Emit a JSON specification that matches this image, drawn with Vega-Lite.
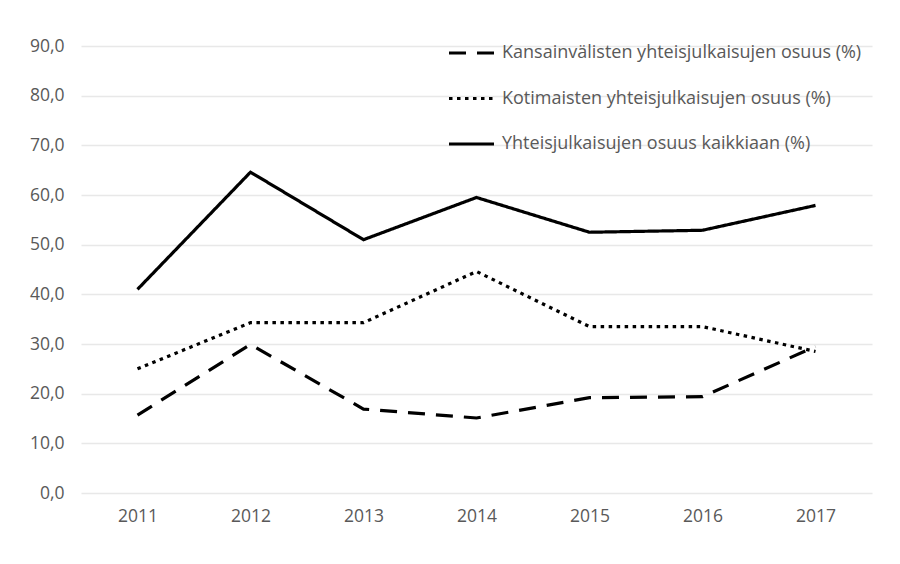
{
  "$schema": "https://vega.github.io/schema/vega-lite/v6.json",
  "width": 791,
  "height": 447,
  "autosize": "none",
  "padding": {"left": 81, "top": 46, "right": 28, "bottom": 71},
  "background": "white",
  "data": {
    "values": [
      {"year": "2011", "series": "Kansainvälisten yhteisjulkaisujen osuus (%)", "value": 15.7},
      {"year": "2012", "series": "Kansainvälisten yhteisjulkaisujen osuus (%)", "value": 29.9},
      {"year": "2013", "series": "Kansainvälisten yhteisjulkaisujen osuus (%)", "value": 16.9},
      {"year": "2014", "series": "Kansainvälisten yhteisjulkaisujen osuus (%)", "value": 15.1},
      {"year": "2015", "series": "Kansainvälisten yhteisjulkaisujen osuus (%)", "value": 19.2},
      {"year": "2016", "series": "Kansainvälisten yhteisjulkaisujen osuus (%)", "value": 19.4},
      {"year": "2017", "series": "Kansainvälisten yhteisjulkaisujen osuus (%)", "value": 29.5},
      {"year": "2011", "series": "Kotimaisten yhteisjulkaisujen osuus (%)", "value": 25.0},
      {"year": "2012", "series": "Kotimaisten yhteisjulkaisujen osuus (%)", "value": 34.3},
      {"year": "2013", "series": "Kotimaisten yhteisjulkaisujen osuus (%)", "value": 34.3},
      {"year": "2014", "series": "Kotimaisten yhteisjulkaisujen osuus (%)", "value": 44.6},
      {"year": "2015", "series": "Kotimaisten yhteisjulkaisujen osuus (%)", "value": 33.5},
      {"year": "2016", "series": "Kotimaisten yhteisjulkaisujen osuus (%)", "value": 33.5},
      {"year": "2017", "series": "Kotimaisten yhteisjulkaisujen osuus (%)", "value": 28.5},
      {"year": "2011", "series": "Yhteisjulkaisujen osuus kaikkiaan (%)", "value": 41.0},
      {"year": "2012", "series": "Yhteisjulkaisujen osuus kaikkiaan (%)", "value": 64.6},
      {"year": "2013", "series": "Yhteisjulkaisujen osuus kaikkiaan (%)", "value": 51.0},
      {"year": "2014", "series": "Yhteisjulkaisujen osuus kaikkiaan (%)", "value": 59.5},
      {"year": "2015", "series": "Yhteisjulkaisujen osuus kaikkiaan (%)", "value": 52.5},
      {"year": "2016", "series": "Yhteisjulkaisujen osuus kaikkiaan (%)", "value": 52.9},
      {"year": "2017", "series": "Yhteisjulkaisujen osuus kaikkiaan (%)", "value": 57.9}
    ]
  },
  "mark": {"type": "line", "color": "black", "strokeWidth": 3.2, "strokeCap": "butt", "strokeJoin": "miter"},
  "encoding": {
    "x": {
      "field": "year", "type": "ordinal",
      "scale": {"paddingInner": 1, "paddingOuter": 0.5},
      "axis": {"title": null, "labelAngle": 0, "ticks": false, "domain": false, "grid": false,
               "labelFont": "Open Sans", "labelFontSize": 17.5, "labelColor": "#595959", "labelPadding": 14}
    },
    "y": {
      "field": "value", "type": "quantitative",
      "scale": {"domain": [0, 90], "nice": false},
      "axis": {"title": null, "values": [0,10,20,30,40,50,60,70,80,90], "labelOverlap": false,
               "labelExpr": "replace(format(datum.value, '.1f'), '.', ',')",
               "ticks": false, "domain": false, "grid": true, "gridColor": "#e8e8e8", "gridWidth": 1.5,
               "labelFont": "Open Sans", "labelFontSize": 17.5, "labelColor": "#595959", "labelPadding": 17}
    },
    "strokeDash": {
      "field": "series", "type": "nominal",
      "scale": {"range": [[17, 11], [3.5, 4.5], [1, 0]]},
      "legend": {
        "title": null, "orient": "none", "legendX": 366, "legendY": -17.5,
        "symbolType": "stroke", "symbolSize": 2025, "symbolStrokeWidth": 3.2, "symbolStrokeColor": "black",
        "labelFont": "Open Sans", "labelFontSize": 18, "labelColor": "#595959", "labelOffset": 6,
        "rowPadding": 11.5, "labelLimit": 500
      }
    }
  },
  "config": {"view": {"stroke": null}}
}
